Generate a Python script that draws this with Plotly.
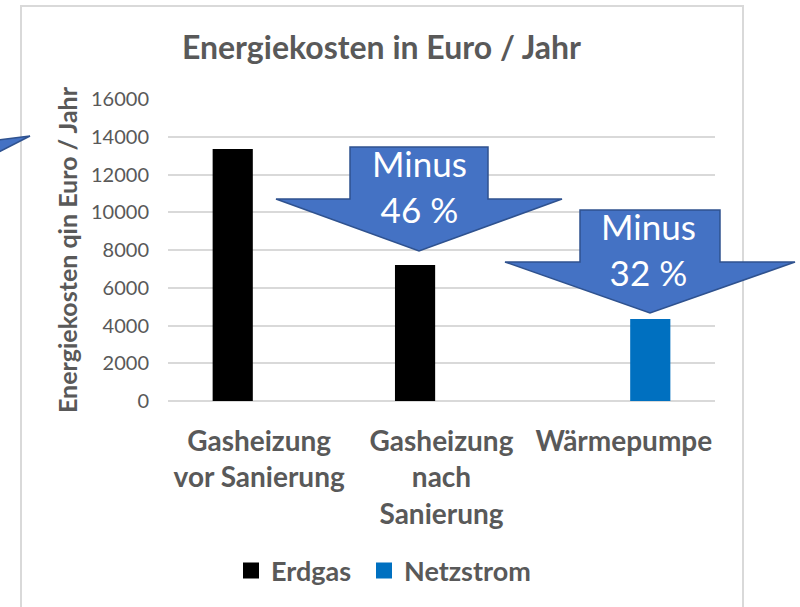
import plotly.graph_objects as go

# Energy cost per year for three heating scenarios
categories = ["Gasheizung<br>vor Sanierung", "Gasheizung<br>nach<br>Sanierung", "Wärmepumpe"]
erdgas = [13350, 7200, None]
netzstrom = [None, None, 4350]
series_names = ["Erdgas", "Netzstrom"]
y_ticks = [0, 2000, 4000, 6000, 8000, 10000, 12000, 14000, 16000]
savings_labels = ["Minus<br>46 %", "Minus<br>32 %"]

W, H = 800, 607
PLOT_L, PLOT_R, PLOT_T, PLOT_B = 168, 715, 99, 401
GRAY = "#595959"
FONT = "Lato"
ARROW_FILL = "#4472C4"
ARROW_LINE = "#2F528F"
BAR_COLORS = ["#000000", "#0070C0"]
LEGEND_IDS = ["legend", "legend2"]
LEGEND_LEFT_PX = [231, 364]


def px(x, y):
    """Pixel position on the page -> paper coordinates."""
    return (x - PLOT_L) / (PLOT_R - PLOT_L), (PLOT_B - y) / (PLOT_B - PLOT_T)


def poly_path(points):
    pts = [px(x, y) for x, y in points]
    return "M " + " L ".join(f"{a:.5f},{b:.5f}" for a, b in pts) + " Z"


def down_arrow(cx, body_half, wing_half, top, shoulder, tip):
    return [
        (cx - body_half, top), (cx + body_half, top), (cx + body_half, shoulder),
        (cx + wing_half, shoulder), (cx, tip), (cx - wing_half, shoulder),
        (cx - body_half, shoulder),
    ]


fig = go.Figure()
for name, vals, col, leg in zip(series_names, [erdgas, netzstrom], BAR_COLORS, LEGEND_IDS):
    fig.add_trace(go.Bar(x=categories, y=vals, name=name, marker_color=col,
                         marker_line_width=0, showlegend=False))
    # legend entry with a larger square swatch
    fig.add_trace(go.Scatter(x=[None], y=[None], mode="markers", name=name, legend=leg,
                             marker=dict(symbol="square", size=16, color=col)))

shapes = []
# chart frame
x0, y0 = px(21, 6)
x1, y1 = px(743, 612)
shapes.append(dict(type="rect", xref="paper", yref="paper", x0=x0, y0=y0, x1=x1, y1=y1,
                   line=dict(color="#D9D9D9", width=2), fillcolor="rgba(0,0,0,0)", layer="below"))

arrows = [
    down_arrow(419, 69, 143, 147, 199, 251),
    down_arrow(650, 70, 145, 210, 262, 313),
]
for pts in arrows:
    shapes.append(dict(type="path", xref="paper", yref="paper", path=poly_path(pts),
                       fillcolor=ARROW_FILL, line=dict(color=ARROW_LINE, width=1.5), layer="above"))
# tail of a neighbouring arrow reaching in from the left edge
shapes.append(dict(type="path", xref="paper", yref="paper",
                   path=poly_path([(-3, 140), (30, 136), (-3, 153)]),
                   fillcolor=ARROW_FILL, line=dict(color=ARROW_LINE, width=1.5), layer="above"))

annotations = []
for (cx, cy), txt in zip([(419, 186), (648, 249)], savings_labels):
    ax_, ay_ = px(cx, cy)
    annotations.append(dict(xref="paper", yref="paper", x=ax_, y=ay_, text=txt, showarrow=False,
                            xanchor="center", yanchor="middle",
                            font=dict(family=FONT, size=35, color="white")))

legend_style = dict(orientation="h", xanchor="left", yanchor="middle", y=px(0, 571)[1],
                    font=dict(family=FONT, size=27, color=GRAY, weight="bold"),
                    bgcolor="rgba(0,0,0,0)", borderwidth=0)

fig.update_layout(
    width=W, height=H,
    margin=dict(l=PLOT_L, r=W - PLOT_R, t=PLOT_T, b=H - PLOT_B, autoexpand=False),
    paper_bgcolor="white", plot_bgcolor="white",
    font=dict(family=FONT, color=GRAY),
    barmode="group", bargap=0.42, bargroupgap=0.24,
    title=dict(text="Energiekosten in Euro / Jahr", xref="container", yref="container",
               x=381.5 / W, y=1 - 48 / H, xanchor="center", yanchor="middle",
               font=dict(family=FONT, size=32, color=GRAY, weight="bold")),
    legend=dict(x=px(LEGEND_LEFT_PX[0], 0)[0], **legend_style),
    legend2=dict(x=px(LEGEND_LEFT_PX[1], 0)[0], **legend_style),
    shapes=shapes, annotations=annotations,
)
fig.update_xaxes(automargin=False, showgrid=False, showline=False, zeroline=False,
                 tickfont=dict(family=FONT, size=28, color=GRAY, weight="bold"),
                 ticks="", ticklabelstandoff=21)
fig.update_yaxes(automargin=False, range=[0, 16000], tickvals=y_ticks, tickformat="d",
                 showgrid=True, gridcolor="#D9D9D9", gridwidth=2,
                 zeroline=True, zerolinecolor="#D9D9D9", zerolinewidth=2, showline=False,
                 ticks="", ticklabelstandoff=18,
                 tickfont=dict(family=FONT, size=20, color=GRAY),
                 title=dict(text="Energiekosten qin Euro / Jahr", standoff=6,
                            font=dict(family=FONT, size=25, color=GRAY, weight="bold")))

fig.write_html("out.html")
